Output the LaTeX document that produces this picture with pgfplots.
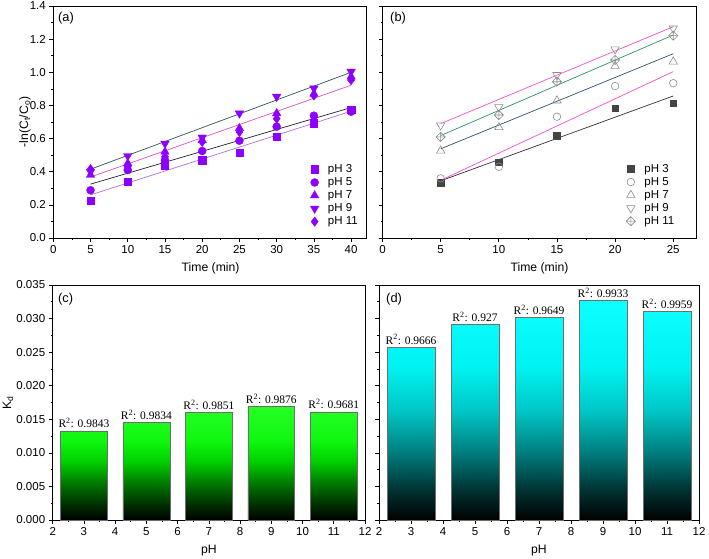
\documentclass[border=0pt]{standalone}
\usepackage{pgfplots}
\pgfplotsset{compat=1.18}
\usepackage{fontspec}
\setmainfont{Liberation Sans}
\newfontfamily\serif{Liberation Serif}
\usetikzlibrary{plotmarks}

\definecolor{vio}{RGB}{140,0,255}
\definecolor{l3a}{RGB}{176,112,208}
\definecolor{l5a}{RGB}{32,32,48}
\definecolor{lpa}{RGB}{224,80,192}
\definecolor{l9a}{RGB}{55,80,90}
\definecolor{l3b}{RGB}{64,40,56}
\definecolor{lpb}{RGB}{240,80,208}
\definecolor{l7b}{RGB}{47,79,112}
\definecolor{l11b}{RGB}{48,144,106}
\definecolor{mgray}{RGB}{140,140,140}
\definecolor{mdark}{RGB}{68,68,68}
\definecolor{barline}{RGB}{110,110,110}

\definecolor{gB}{rgb}{0,0.22,0}
\definecolor{gC}{rgb}{0,0.50,0}
\definecolor{gD}{rgb}{0,0.82,0}
\definecolor{gE}{rgb}{0.06,0.97,0.06}
\definecolor{gF}{rgb}{0.15,1,0.15}
\definecolor{cB}{rgb}{0,0.20,0.20}
\definecolor{cC}{rgb}{0,0.48,0.48}
\definecolor{cD}{rgb}{0,0.78,0.78}
\definecolor{cE}{rgb}{0,0.95,0.95}
\definecolor{cF}{rgb}{0.05,1,1}

\pgfdeclareverticalshading{greenbar}{100bp}{color(0bp)=(black); color(25bp)=(black); color(33bp)=(gB); color(42bp)=(gC); color(51bp)=(gD); color(60bp)=(gE); color(75bp)=(gF); color(100bp)=(gF)}
\pgfdeclareverticalshading{cyanbar}{100bp}{color(0bp)=(black); color(25bp)=(black); color(32bp)=(cB); color(40bp)=(cC); color(50bp)=(cD); color(60bp)=(cE); color(75bp)=(cF); color(100bp)=(cF)}

\pgfdeclareplotmark{diamondplus}{%
 \pgfpathmoveto{\pgfqpoint{0pt}{\pgfplotmarksize}}%
 \pgfpathlineto{\pgfqpoint{\pgfplotmarksize}{0pt}}%
 \pgfpathlineto{\pgfqpoint{0pt}{-\pgfplotmarksize}}%
 \pgfpathlineto{\pgfqpoint{-\pgfplotmarksize}{0pt}}%
 \pgfpathclose
 \pgfpathmoveto{\pgfqpoint{0pt}{\pgfplotmarksize}}\pgfpathlineto{\pgfqpoint{0pt}{-\pgfplotmarksize}}%
 \pgfpathmoveto{\pgfqpoint{\pgfplotmarksize}{0pt}}\pgfpathlineto{\pgfqpoint{-\pgfplotmarksize}{0pt}}%
 \pgfusepathqstroke}

\pgfplotsset{myax/.style={scale only axis, anchor=south west, tick pos=left, tick align=outside,
  major tick length=4pt, minor tick length=2pt,
  axis line style={line width=0.9pt},
  every tick/.style={black, line width=0.7pt},
  tick label style={font=\fontsize{11.5}{13}\selectfont},
  label style={font=\fontsize{12.2}{14}\selectfont},
  /pgf/number format/assume math mode=true,
  scaled ticks=false, clip=false,
  legend cell align=left},
  lega/.style={legend style={draw=none, fill=none, font=\fontsize{11.5}{13}\selectfont,
     nodes={inner sep=1pt}, row sep=1.6pt, column sep=8pt, anchor=north west}},
  barax/.style={myax, xmin=2, xmax=12, ymin=0, ymax=0.035,
     xtick={2,3,...,12}, minor x tick num=1,
     ytick={0,0.005,0.01,0.015,0.02,0.025,0.03,0.035}, minor y tick num=1,
     xlabel={pH},
     xlabel style={at={(axis description cs:0.5,-0.128)}, anchor=center}},
  rlab/.style={draw=none, mark=none, forget plot, point meta=explicit symbolic,
     nodes near coords={R\textsuperscript{2}: \pgfplotspointmeta},
     every node near coord/.style={anchor=south, inner sep=2.5pt, black, font=\serif\fontsize{11.5}{13}\selectfont}}
}

\begin{document}
\begin{tikzpicture}
\path[use as bounding box] (0pt,0pt) rectangle (709pt,559pt);

% (a)
\begin{axis}[myax, lega, at={(53.3pt,321pt)}, width=312.7pt, height=232pt,
  xmin=0, xmax=42, ymin=0, ymax=1.4,
  xtick={0,5,10,15,20,25,30,35,40}, minor x tick num=1,
  ytick={0,0.2,0.4,0.6,0.8,1.0,1.2,1.4}, minor y tick num=1,
  yticklabel style={/pgf/number format/.cd, fixed, fixed zerofill, precision=1},
  xlabel={Time (min)}, ylabel={-ln(C\textsubscript{t}/C\textsubscript{o})},
  xlabel style={at={(axis description cs:0.503,-0.129)}, anchor=center},
  ylabel style={at={(axis description cs:-0.0905,0.5)}, anchor=center},
  legend style={at={(axis description cs:0.812,0.33)}}]
\addplot[forget plot, l3a, line width=0.7pt] coordinates {(5,0.26)(40,0.765)};
\addplot[forget plot, l5a, line width=0.7pt] coordinates {(5,0.325)(40,0.787)};
\addplot[forget plot, lpa, line width=0.7pt] coordinates {(5,0.368)(40,0.922)};
\addplot[forget plot, l9a, line width=0.7pt] coordinates {(5,0.415)(40,1.0)};
\addplot[only marks, mark=square*, mark size=3.7pt, vio] coordinates {(5,0.225)(10,0.34)(15,0.437)(20,0.469)(25,0.515)(30,0.611)(35,0.692)(40,0.775)};
\addplot[only marks, mark=*, mark size=4.0pt, vio] coordinates {(5,0.288)(10,0.41)(15,0.47)(20,0.525)(25,0.587)(30,0.672)(35,0.738)(40,0.762)};
\addplot[only marks, mark=triangle*, mark size=4.9pt, vio] coordinates {(5,0.38)(10,0.45)(15,0.52)(20,0.59)(25,0.662)(30,0.752)(35,0.87)(40,0.973)};
\addplot[only marks, mark=triangle*, mark options={rotate=180}, mark size=4.9pt, vio] coordinates {(5,0.40)(10,0.495)(15,0.57)(20,0.607)(25,0.752)(30,0.853)(35,0.903)(40,1.004)};
\addplot[only marks, mark=diamond*, mark size=4.7pt, vio] coordinates {(5,0.415)(10,0.43)(15,0.49)(20,0.58)(25,0.64)(30,0.72)(35,0.86)(40,0.953)};
\legend{pH 3, pH 5, pH 7, pH 9, pH 11}
\node[anchor=north west, inner sep=0pt, font=\fontsize{12.8}{14}\selectfont] at (axis description cs:0.015,0.975) {(a)};
\end{axis}

% (b)
\begin{axis}[myax, lega, at={(382.5pt,321pt)}, width=314pt, height=232pt,
  xmin=0, xmax=27, ymin=0, ymax=1.4,
  xtick={0,5,10,15,20,25}, minor x tick num=1,
  ytick={0,0.2,0.4,0.6,0.8,1.0,1.2,1.4}, minor y tick num=1, yticklabels={},
  xlabel={Time (min)},
  xlabel style={at={(axis description cs:0.50,-0.129)}, anchor=center},
  legend style={at={(axis description cs:0.766,0.332)}}]
\addplot[forget plot, l3b, line width=0.7pt] coordinates {(5,0.345)(25,0.857)};
\addplot[forget plot, lpb, line width=0.7pt] coordinates {(5,0.348)(25,1.004)};
\addplot[forget plot, l7b, line width=0.7pt] coordinates {(5,0.538)(25,1.112)};
\addplot[forget plot, lpb, line width=0.7pt] coordinates {(5,0.69)(25,1.275)};
\addplot[forget plot, l11b, line width=0.7pt] coordinates {(5,0.618)(25,1.225)};
\addplot[only marks, mark=square*, mark size=3.3pt, mdark] coordinates {(5,0.334)(10,0.457)(15,0.617)(20,0.783)(25,0.813)};
\addplot[only marks, mark=o, mark size=3.8pt, mgray, mark options={line width=0.6pt}] coordinates {(5,0.36)(10,0.43)(15,0.732)(20,0.917)(25,0.934)};
\addplot[only marks, mark=triangle, mark size=4.8pt, mgray, mark options={line width=0.6pt}] coordinates {(5,0.527)(10,0.668)(15,0.829)(20,1.038)(25,1.064)};
\addplot[only marks, mark=triangle, mark size=4.8pt, mgray, mark options={rotate=180, line width=0.6pt}] coordinates {(5,0.68)(10,0.79)(15,0.984)(20,1.139)(25,1.265)};
\addplot[only marks, mark=diamondplus, mark size=4.6pt, mgray, mark options={line width=0.6pt}] coordinates {(5,0.61)(10,0.742)(15,0.943)(20,1.074)(25,1.221)};
\legend{pH 3, pH 5, pH 7, pH 9, pH 11}
\node[anchor=north west, inner sep=0pt, font=\fontsize{12.8}{14}\selectfont] at (axis description cs:0.024,0.974) {(b)};
\end{axis}

% (c)
\begin{axis}[barax, at={(52.7pt,39pt)}, width=312.3pt, height=235pt,
  yticklabel style={/pgf/number format/.cd, fixed, fixed zerofill, precision=3},
  ylabel={K\textsubscript{d}},
  ylabel style={at={(axis description cs:-0.143,0.5)}, anchor=center}]
\addplot[ybar, bar width=1.5, bar shift=0pt, draw=barline, line width=0.5pt, shade, shading=greenbar]
  coordinates {(3,0.01329)(5,0.01453)(7,0.01602)(9,0.01691)(11,0.01612)};
\addplot[rlab] coordinates {(3,0.01329)[0.9843] (5,0.01453)[0.9834] (7,0.01602)[0.9851] (9,0.01691)[0.9876] (11,0.01612)[0.9681]};
\node[anchor=north west, inner sep=0pt, font=\fontsize{12.8}{14}\selectfont] at (axis description cs:0.017,0.966) {(c)};
\end{axis}

% (d)
\begin{axis}[barax, at={(379pt,39pt)}, width=320pt, height=235pt, yticklabels={}]
\addplot[ybar, bar width=1.5, bar shift=0pt, draw=barline, line width=0.5pt, shade, shading=cyanbar]
  coordinates {(3,0.02575)(5,0.02910)(7,0.03020)(9,0.03268)(11,0.03108)};
\addplot[rlab] coordinates {(3,0.02575)[0.9666] (5,0.02910)[0.927] (7,0.03020)[0.9649] (9,0.03268)[0.9933] (11,0.03108)[0.9959]};
\node[anchor=north west, inner sep=0pt, font=\fontsize{12.8}{14}\selectfont] at (axis description cs:0.022,0.966) {(d)};
\end{axis}
\end{tikzpicture}
\end{document}
